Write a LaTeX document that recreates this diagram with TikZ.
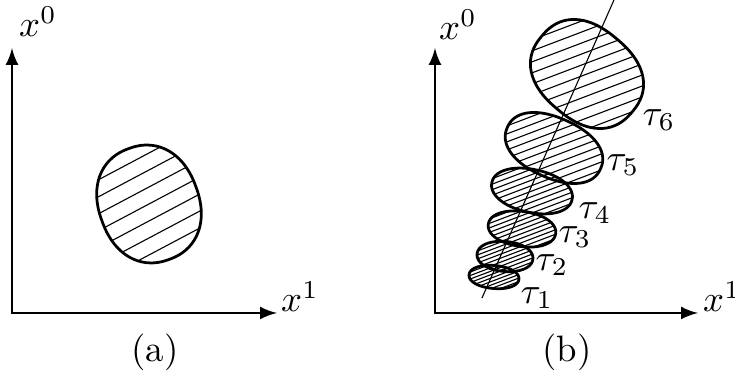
\documentclass[tikz,border=0pt]{standalone}
\usepackage{amsmath, amssymb}
\usepackage{tikz}
\usetikzlibrary{arrows,calc}

\tikzset{
  axis/.style={line width=0.6pt, latex-latex},
  outline/.style={line width=0.75pt},
  hatch/.style={line width=0.3pt},
  worldline/.style={line width=0.3pt}
}

% blob outline: #1/#2 centre, #3/#4 half axes, #5 tilt, #6 roundness
\newcommand{\blobpath}[6]{plot[variable=\t, domain=0:355, samples=72, smooth cycle]
  ({#1 + #3*sign(cos(\t))*pow(abs(cos(\t))+0.0001,#6)*cos(#5) - #4*sign(sin(\t))*pow(abs(sin(\t))+0.0001,#6)*sin(#5)},
   {#2 + #3*sign(cos(\t))*pow(abs(cos(\t))+0.0001,#6)*sin(#5) + #4*sign(sin(\t))*pow(abs(sin(\t))+0.0001,#6)*cos(#5)})}

% #1-#6 as above, #7 spacing, #8 slope
\newcommand{\hatchblob}[8]{%
  \begin{scope}
    \clip \blobpath{#1}{#2}{#3}{#4}{#5}{#6};
    \foreach \k in {-12,...,12} \draw[hatch] (#1-90,#2+\k*#7+90*#8) -- ++(180,-180*#8);
  \end{scope}
  \draw[outline] \blobpath{#1}{#2}{#3}{#4}{#5}{#6};}

\begin{document}
\begin{tikzpicture}[x=0.272pt,y=-0.272pt]
\useasboundingbox (0,0) rectangle (735,379);
% (a)
\begin{scope}
\coordinate (oa) at (12,313);
\coordinate (ya) at (12,48);
\coordinate (xa) at (277,313);
\draw[axis] (ya) -- (oa) -- (xa);
\node (x0a) at (38,22) {$x^0$};
\node (x1a) at (300,297) {$x^1$};
\hatchblob{149}{204}{59}{50}{70}{0.9}{17}{0.53}
\node (capa) at (155,352) {(a)};
\end{scope}
% (b)
\begin{scope}
\coordinate (ob) at (435,313);
\coordinate (yb) at (435,48);
\coordinate (xb) at (698,313);
\draw[axis] (yb) -- (ob) -- (xb);
\node (x0b) at (458,25) {$x^0$};
\node (x1b) at (722,297) {$x^1$};
\hatchblob{587}{74}{59}{46}{40}{0.85}{11}{0.38}
\hatchblob{554}{148}{51}{30}{24}{0.9}{8}{0.38}
\hatchblob{532}{191}{41}{21.5}{12}{0.95}{5.5}{0.38}
\hatchblob{522}{229}{34}{17.5}{8}{0.95}{4.5}{0.38}
\hatchblob{505}{256.5}{28}{15}{5}{0.95}{4}{0.38}
\hatchblob{494}{277}{25}{11.5}{5}{0.95}{3.5}{0.38}
\coordinate (wl0) at (482,298);
\coordinate (wl1) at (614,0);
\draw[worldline] (wl0) -- (wl1);
\node (t6) at (659,120) {$\tau_6$};
\node (t5) at (623,165) {$\tau_5$};
\node (t4) at (595,213) {$\tau_4$};
\node (t3) at (575,237) {$\tau_3$};
\node (t2) at (552,265) {$\tau_2$};
\node (t1) at (537,298) {$\tau_1$};
\node (capb) at (567,352) {(b)};
\end{scope}
\end{tikzpicture}
\end{document}
